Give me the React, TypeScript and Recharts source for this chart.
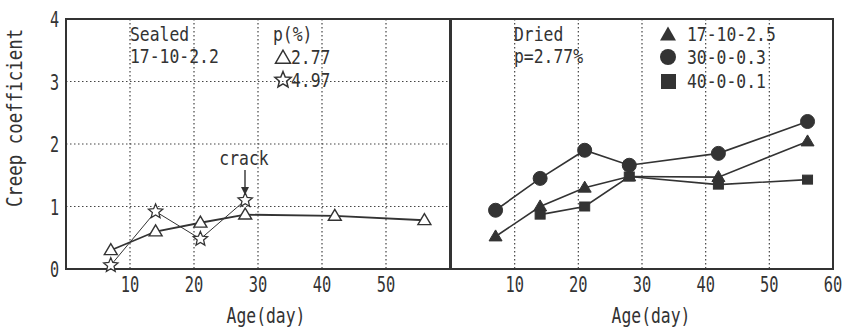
import React from 'react';
import { LineChart, Line, XAxis, YAxis, CartesianGrid, ReferenceArea } from 'recharts';

const INK = '#333';
const FONT = '"DejaVu Sans Mono", "Liberation Mono", monospace';

// Sealed panel (17-10-2.2)
const leftAges = [7, 14, 21, 28, 42, 56];
const sealedTriangle = [0.3, 0.6, 0.74, 0.87, 0.85, 0.78]; // p = 2.77 %
const starAges = [7, 14, 21, 28];
const sealedStar = [0.06, 0.92, 0.48, 1.1]; // p = 4.97 %

// Dried panel (p = 2.77 %)
const rightAges = [7, 14, 21, 28, 42, 56];
const driedTriangle = [0.52, 1.0, 1.3, 1.48, 1.47, 2.04]; // 17-10-2.5
const driedCircle = [0.94, 1.45, 1.9, 1.66, 1.85, 2.36]; // 30-0-0.3
const squareAges = [14, 21, 28, 42, 56];
const driedSquare = [0.87, 1.0, 1.48, 1.35, 1.43]; // 40-0-0.1

const leftXTicks = [10, 20, 30, 40, 50];
const rightXTicks = [10, 20, 30, 40, 50, 60];
const yTicks = [0, 1, 2, 3, 4];

const zip = (xs: number[], ys: number[]) => xs.map((age, i) => ({ age, v: ys[i] }));

function T({ x, y, children, anchor = 'start', size = 20, sx = 0.82, rotate }: any) {
  const tr = `translate(${x},${y})${rotate ? ` rotate(${rotate})` : ''} scale(${sx},1)`;
  return (
    <text transform={tr} textAnchor={anchor} fontFamily={FONT} fontSize={size} fill={INK}>
      {children}
    </text>
  );
}

const starPoints = (cx: number, cy: number, ro: number, ri: number) => {
  const pts: string[] = [];
  for (let i = 0; i < 10; i++) {
    const r = i % 2 === 0 ? ro : ri;
    const a = -Math.PI / 2 + (i * Math.PI) / 5;
    pts.push(`${cx + r * Math.cos(a)},${cy + r * Math.sin(a)}`);
  }
  return pts.join(' ');
};
const triPoints = (cx: number, cy: number, w: number, h: number) =>
  `${cx},${cy - h * 0.6} ${cx - w / 2},${cy + h * 0.4} ${cx + w / 2},${cy + h * 0.4}`;

const OpenTriDot = (p: any) => (
  <polygon key={`ot${p.index}`} points={triPoints(p.cx, p.cy, 13, 11)} fill="#fff" stroke={INK} strokeWidth={1.4} />
);
const OpenStarDot = (p: any) => (
  <polygon key={`os${p.index}`} points={starPoints(p.cx, p.cy, 7.5, 3.4)} fill="#fff" stroke={INK} strokeWidth={1.3} />
);
const TriDot = (p: any) => (
  <polygon key={`t${p.index}`} points={triPoints(p.cx, p.cy, 13, 11)} fill={INK} stroke={INK} strokeWidth={1} />
);
const CircleDot = (p: any) => (
  <circle key={`c${p.index}`} cx={p.cx} cy={p.cy} r={7} fill={INK} stroke={INK} />
);
const SquareDot = (p: any) => (
  <rect key={`s${p.index}`} x={p.cx - 5} y={p.cy - 4.5} width={10} height={9} fill={INK} stroke={INK} />
);

const XTick = (p: any) => (
  <T x={p.x} y={p.y + 23} anchor="middle" size={22} sx={0.7}>
    {p.payload.value}
  </T>
);
const YTick = (p: any) => (
  <T x={p.x - 7} y={p.y + 8} anchor="end" size={21} sx={0.72}>
    {p.payload.value}
  </T>
);

const gridProps = { stroke: '#444', strokeDasharray: '1.5 2.5', strokeWidth: 1.2 };

export default function App() {
  return (
    <div style={{ position: 'absolute', left: 0, top: 0, width: 849, height: 328, background: '#fff', overflow: 'hidden' }}>
      <div style={{ position: 'absolute', left: 0, top: 0 }}>
        <LineChart width={460} height={328} margin={{ top: 19, right: 10, bottom: 0, left: 26 }}>
          <CartesianGrid {...gridProps} />
          <XAxis type="number" dataKey="age" domain={[0, 60]} ticks={leftXTicks} tickLine={false} axisLine={false}
            tickSize={0} tickMargin={0} height={59} tick={XTick} interval={0} />
          <YAxis type="number" domain={[0, 4]} ticks={yTicks} width={40} tickLine={false} axisLine={false}
            tickSize={0} tickMargin={0} tick={YTick} interval={0} />
          <ReferenceArea x1={0} x2={60} y1={0} y2={4} fill="none" fillOpacity={0} stroke={INK} strokeWidth={2} />
          <Line data={zip(leftAges, sealedTriangle)} dataKey="v" stroke={INK} strokeWidth={1.8}
            dot={OpenTriDot} activeDot={false} isAnimationActive={false} />
          <Line data={zip(starAges, sealedStar)} dataKey="v" stroke={INK} strokeWidth={1}
            dot={OpenStarDot} activeDot={false} isAnimationActive={false} />
        </LineChart>
      </div>
      <div style={{ position: 'absolute', left: 441, top: 0 }}>
        <LineChart width={408} height={328} margin={{ top: 19, right: 16, bottom: 0, left: 10 }}>
          <CartesianGrid {...gridProps} />
          <XAxis type="number" dataKey="age" domain={[0, 60]} ticks={rightXTicks} tickLine={false} axisLine={false}
            tickSize={0} tickMargin={0} height={59} tick={XTick} interval={0} />
          <YAxis type="number" domain={[0, 4]} ticks={yTicks} width={0} tickLine={false} axisLine={false} tick={false} />
          <ReferenceArea x1={0} x2={60} y1={0} y2={4} fill="none" fillOpacity={0} stroke={INK} strokeWidth={2} />
          <Line data={zip(rightAges, driedTriangle)} dataKey="v" stroke={INK} strokeWidth={1.6}
            dot={TriDot} activeDot={false} isAnimationActive={false} />
          <Line data={zip(rightAges, driedCircle)} dataKey="v" stroke={INK} strokeWidth={1.6}
            dot={CircleDot} activeDot={false} isAnimationActive={false} />
          <Line data={zip(squareAges, driedSquare)} dataKey="v" stroke={INK} strokeWidth={1.6}
            dot={SquareDot} activeDot={false} isAnimationActive={false} />
        </LineChart>
      </div>
      <svg width={849} height={328} style={{ position: 'absolute', left: 0, top: 0, pointerEvents: 'none' }}>
        {/* axis titles */}
        <T x={22} y={118} anchor="middle" rotate={-90} size={21} sx={0.83}>Creep coefficient</T>
        <T x={266} y={323} anchor="middle" size={21} sx={0.78}>Age(day)</T>
        <T x={651} y={323} anchor="middle" size={21} sx={0.78}>Age(day)</T>
        {/* sealed annotations */}
        <T x={130} y={41}>Sealed</T>
        <T x={130} y={63}>17-10-2.2</T>
        <T x={273} y={41}>p(%)</T>
        <polygon points={triPoints(283, 58, 15, 13)} fill="none" stroke={INK} strokeWidth={1.5} />
        <T x={291} y={64}>2.77</T>
        <polygon points={starPoints(283, 80, 8.5, 3.8)} fill="none" stroke={INK} strokeWidth={1.5} />
        <T x={291} y={87}>4.97</T>
        <T x={244} y={165} anchor="middle">crack</T>
        <line x1={245} y1={170} x2={245} y2={190} stroke={INK} strokeWidth={1.4} />
        <polygon points="241,187 249,187 245,195" fill={INK} />
        {/* dried annotations */}
        <T x={514} y={41}>Dried</T>
        <T x={514} y={63}>p=2.77%</T>
        <polygon points={triPoints(668, 35, 16, 14)} fill={INK} />
        <T x={687} y={41}>17-10-2.5</T>
        <circle cx={668} cy={57} r={8} fill={INK} />
        <T x={687} y={64}>30-0-0.3</T>
        <rect x={661} y={74} width={15} height={15} fill={INK} />
        <T x={687} y={88}>40-0-0.1</T>
      </svg>
    </div>
  );
}
